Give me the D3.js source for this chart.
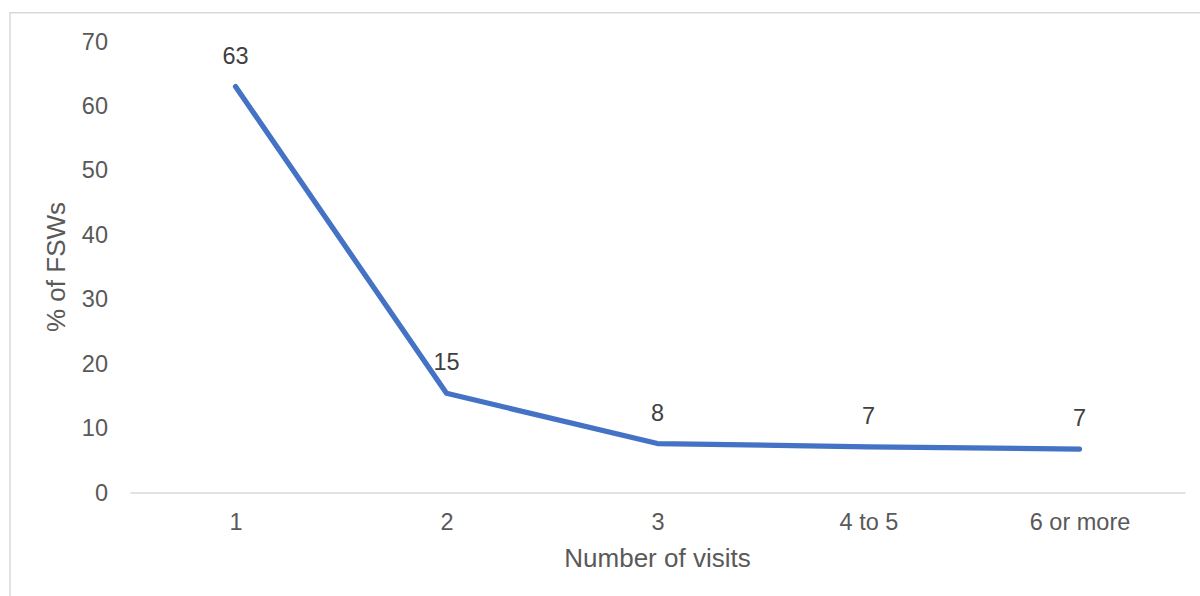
<!DOCTYPE html>
<html>
<head>
<meta charset="utf-8">
<script src="https://d3js.org/d3.v7.min.js"></script>
<style>
  body { margin: 0; background: #fff; }
  svg { display: block; font-family: "Liberation Sans", Arial, sans-serif; }
</style>
</head>
<body>
<div id="graphic"></div>
<script>
// data
var visits = ["1", "2", "3", "4 to 5", "6 or more"];
var pctFSW = [63, 15.4, 7.6, 7.1, 6.75];
var yTicks = [0, 10, 20, 30, 40, 50, 60, 70];

var width = 1200, height = 596;
var plot = { left: 130, right: 1185, top: 41.5, bottom: 492.5 };

var svg = d3.select("#graphic").append("svg")
    .attr("width", width)
    .attr("height", height);

// chart frame (runs off the right and bottom of the picture)
svg.append("rect")
    .attr("x", 10).attr("y", 12.75)
    .attr("width", 1300).attr("height", 700)
    .attr("fill", "none")
    .attr("stroke", "#d9d9d9")
    .attr("stroke-width", 1.5);

var x = d3.scalePoint()
    .domain(visits)
    .range([plot.left, plot.right])
    .padding(0.5);

var y = d3.scaleLinear()
    .domain([0, 70])
    .range([plot.bottom, plot.top]);

// y axis - labels only
var gy = svg.append("g")
    .attr("transform", "translate(" + plot.left + ",0)")
    .call(d3.axisLeft(y).tickValues(yTicks).tickSize(0).tickPadding(22));
gy.select(".domain").remove();
gy.selectAll("text")
    .attr("fill", "#595959")
    .style("font-size", "23.5px")
    .style("font-family", '"Liberation Sans", Arial, sans-serif');

// x axis
var gx = svg.append("g")
    .attr("transform", "translate(0," + plot.bottom + ")")
    .call(d3.axisBottom(x).tickSize(0).tickPadding(21));
gx.select(".domain")
    .attr("stroke", "#d9d9d9")
    .attr("stroke-width", 1.5);
gx.selectAll("text")
    .attr("fill", "#595959")
    .style("font-size", "23.5px")
    .style("font-family", '"Liberation Sans", Arial, sans-serif');

// the line
var line = d3.line()
    .x(function (d, i) { return x(visits[i]); })
    .y(function (d) { return y(d); });

svg.append("path")
    .datum(pctFSW)
    .attr("d", line)
    .attr("fill", "none")
    .attr("stroke", "#4472C4")
    .attr("stroke-width", 5.25)
    .attr("stroke-linejoin", "round")
    .attr("stroke-linecap", "round");

// value labels above each point
svg.selectAll(".label")
    .data(pctFSW)
    .enter()
    .append("text")
    .attr("class", "label")
    .attr("x", function (d, i) { return x(visits[i]); })
    .attr("y", function (d) { return y(d) - 23; })
    .attr("text-anchor", "middle")
    .attr("fill", "#404040")
    .style("font-size", "23.5px")
    .text(function (d) { return d3.format(".0f")(d); });

// axis titles
svg.append("text")
    .attr("x", (plot.left + plot.right) / 2)
    .attr("y", 566.5)
    .attr("text-anchor", "middle")
    .attr("fill", "#595959")
    .style("font-size", "26px")
    .text("Number of visits");

svg.append("text")
    .attr("transform", "translate(65," + ((plot.top + plot.bottom) / 2) + ") rotate(-90)")
    .attr("text-anchor", "middle")
    .attr("fill", "#595959")
    .style("font-size", "26px")
    .text("% of FSWs");
</script>
</body>
</html>
